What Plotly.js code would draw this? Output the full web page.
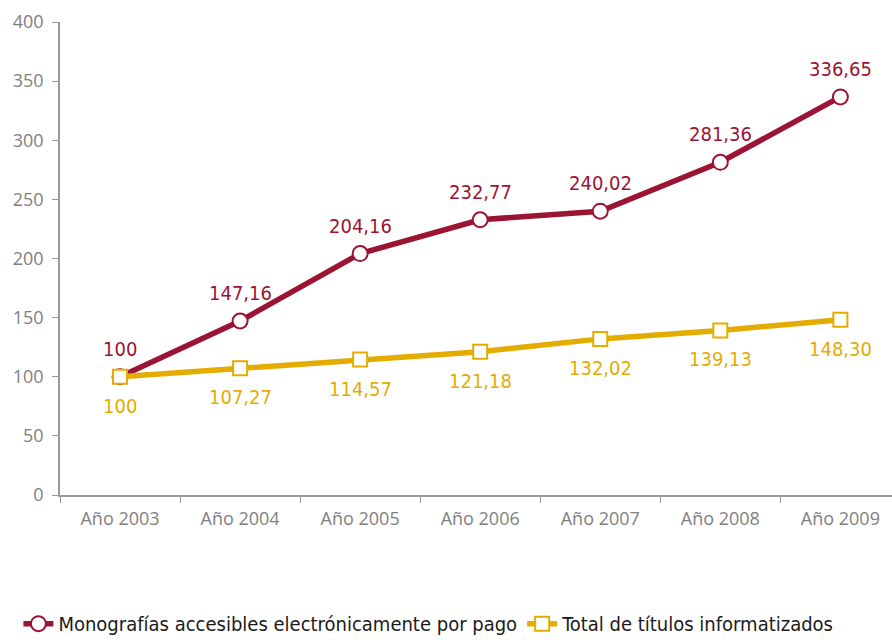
<!DOCTYPE html>
<html><head><meta charset="utf-8">
<script src="https://cdn.plot.ly/plotly-3.0.1.min.js"></script>
<style>body{margin:0}#c{width:892px;height:640px}</style>
</head><body><div id="c"></div>
<script>
const categories = ["Año 2003","Año 2004","Año 2005","Año 2006","Año 2007","Año 2008","Año 2009"];
const monografias = [100, 147.16, 204.16, 232.77, 240.02, 281.36, 336.65];
const totalTitulos = [100, 107.27, 114.57, 121.18, 132.02, 139.13, 148.30];
const monoLabels = ["100","147,16","204,16","232,77","240,02","281,36","336,65"];
const totalLabels = ["100","107,27","114,57","121,18","132,02","139,13","148,30"];
const seriesNames = ["Monografías accesibles electrónicamente por pago","Total de títulos informatizados"];
const RED = "#9C1434", YEL = "#E5AC00";
const labelFont = "'DejaVu Sans Condensed', 'DejaVu Sans', sans-serif";

const traces = [
  {x: categories, y: monografias, name: seriesNames[0], type: "scatter", mode: "lines+markers",
   line: {color: RED, width: 5.5}, marker: {symbol: "circle", size: 15, color: "#fff", line: {color: RED, width: 2}}},
  {x: categories, y: totalTitulos, name: seriesNames[1], type: "scatter", mode: "lines+markers",
   line: {color: YEL, width: 5.5}, marker: {symbol: "square", size: 14, color: "#fff", line: {color: YEL, width: 2}}}
];
const annotations = [];
categories.forEach((c, i) => {
  annotations.push({x: c, y: monografias[i], text: monoLabels[i], showarrow: false, yshift: 28,
    font: {family: labelFont, size: 20, color: RED}});
  annotations.push({x: c, y: totalTitulos[i], text: totalLabels[i], showarrow: false, yshift: -29,
    font: {family: labelFont, size: 20, color: YEL}});
});
const layout = {
  width: 892, height: 640,
  margin: {l: 60, r: 0, t: 22, b: 145, autoexpand: false},
  paper_bgcolor: "#fff", plot_bgcolor: "#fff",
  showlegend: true,
  legend: {orientation: "h", x: -0.05, xanchor: "left", y: -0.272, yanchor: "middle",
    font: {family: labelFont, size: 20, color: "#1a1a1a"}, itemwidth: 30, tracegroupgap: 0},
  xaxis: {type: "category", range: [-0.5, 6.43], showgrid: false, zeroline: false,
    showline: true, linecolor: "#999", linewidth: 1.5, ticks: "outside", tickson: "boundaries",
    ticklen: 6, tickcolor: "#999", ticklabelstandoff: 7,
    tickfont: {family: "'Open Sans', sans-serif", size: 18, color: "#7f7f7f"}},
  yaxis: {range: [0, 400], dtick: 50, showgrid: false, zeroline: false,
    showline: true, linecolor: "#999", linewidth: 1.5, ticks: "outside", ticklen: 6, tickcolor: "#999",
    ticklabelstandoff: 5,
    tickfont: {family: "'Open Sans', sans-serif", size: 18, color: "#7f7f7f"}},
  annotations: annotations
};
Plotly.newPlot("c", traces, layout, {displayModeBar: false});
</script></body></html>
